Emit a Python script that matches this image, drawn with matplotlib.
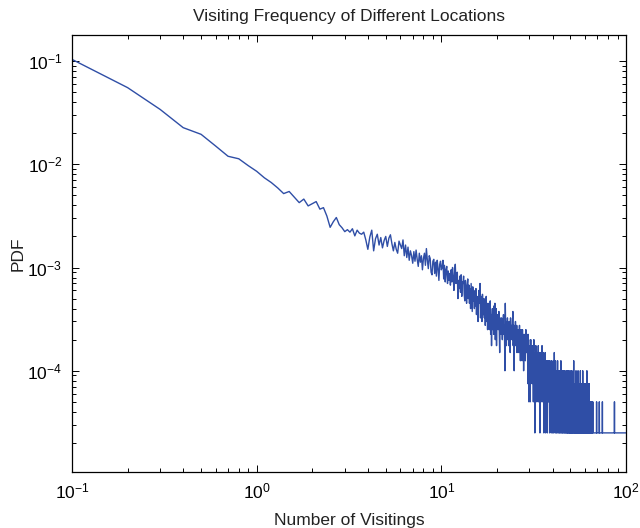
import numpy as np
import matplotlib
matplotlib.use("Agg")
import matplotlib.pyplot as plt

# visits per location, binned in steps of 0.1 (one row = one unit of x)
bin_width = 0.1
pdf_per_count = 2.5e-5
visit_counts = [
    4150, 2210, 1360, 905, 780, 600, 478, 452, 388, 342,
    296, 266, 236, 208, 218, 192, 170, 184, 158, 166,
    174, 147, 152, 126, 98, 111, 122, 104, 97, 89,
    93, 88, 95, 81, 92, 86, 84, 88, 74, 60,
    79, 92, 58, 76, 84, 66, 78, 62, 73, 80,
    64, 77, 83, 68, 58, 70, 60, 55, 72, 66,
    61, 74, 52, 66, 50, 63, 47, 58, 52, 44,
    57, 46, 59, 48, 41, 55, 45, 52, 38, 49,
    55, 42, 61, 47, 39, 52, 49, 36, 34, 46,
    48, 35, 45, 33, 47, 39, 30, 43, 46, 38,
    40, 47, 31, 42, 29, 38, 41, 28, 37, 30,
    35, 27, 38, 29, 40, 32, 24, 36, 43, 28,
    31, 36, 20, 30, 25, 33, 23, 34, 21, 29,
    28, 33, 22, 19, 30, 25, 18, 27, 31, 20,
    27, 18, 25, 16, 28, 21, 15, 26, 19, 24,
    16, 23, 17, 25, 14, 21, 20, 12, 19, 24,
    18, 28, 13, 21, 15, 12, 22, 17, 14, 20,
    13, 19, 11, 18, 21, 12, 16, 10, 18, 12,
    17, 10, 15, 19, 9, 14, 7, 13, 16, 10,
    15, 9, 17, 12, 18, 8, 11, 16, 7, 13,
    11, 14, 10, 12, 15, 9, 6, 13, 10, 12,
    9, 13, 11, 8, 12, 10, 14, 9, 11, 8,
    4, 18, 10, 12, 7, 11, 9, 13, 8, 10,
    11, 7, 12, 9, 10, 6, 13, 8, 11, 9,
    10, 8, 12, 15, 7, 9, 11, 4, 10, 8,
    9, 12, 7, 10, 8, 11, 6, 9, 10, 7,
    8, 10, 6, 9, 11, 7, 8, 5, 9, 10,
    7, 9, 8, 5, 10, 6, 9, 8, 4, 7,
    8, 6, 9, 7, 5, 8, 10, 6, 7, 9,
    6, 8, 7, 3, 9, 6, 8, 2, 7, 6,
    5, 7, 2, 6, 8, 4, 6, 5, 7, 3,
    6, 4, 7, 5, 2, 6, 8, 4, 5, 3,
    1, 5, 6, 4, 7, 3, 5, 6, 2, 4,
    5, 3, 6, 4, 7, 2, 5, 4, 3, 6,
    4, 1, 5, 3, 6, 4, 2, 5, 3, 4,
    7, 3, 4, 2, 5, 6, 3, 4, 1, 5,
    3, 5, 2, 4, 6, 3, 1, 4, 5, 3,
    4, 2, 5, 3, 1, 4, 3, 5, 2, 4,
    3, 5, 2, 4, 3, 1, 5, 3, 2, 4,
    2, 4, 3, 1, 5, 3, 2, 4, 3, 1,
    4, 2, 3, 5, 1, 3, 4, 2, 6, 3,
    2, 4, 1, 3, 5, 2, 3, 1, 4, 2,
    3, 1, 4, 2, 3, 5, 2, 1, 3, 4,
    2, 3, 1, 4, 2, 3, 1, 2, 4, 3,
    1, 3, 2, 5, 2, 1, 3, 2, 4, 1,
    3, 2, 4, 1, 2, 3, 1, 4, 2, 3,
    2, 1, 3, 2, 4, 1, 2, 3, 1, 2,
    3, 2, 1, 4, 2, 3, 1, 2, 3, 1,
    2, 4, 1, 2, 3, 1, 2, 4, 2, 1,
    3, 1, 2, 3, 1, 2, 4, 1, 2, 3,
    1, 2, 3, 1, 2, 4, 1, 2, 1, 3,
    2, 1, 3, 2, 1, 2, 4, 1, 3, 2,
    5, 1, 2, 1, 3, 2, 1, 2, 3, 1,
    2, 3, 1, 2, 1, 4, 2, 1, 2, 1,
    3, 1, 2, 1, 2, 3, 1, 2, 1, 4,
    1, 2, 1, 3, 2, 1, 2, 1, 3, 2,
    2, 1, 3, 1, 2, 4, 1, 2, 1, 2,
    1, 3, 2, 1, 2, 1, 3, 1, 2, 1,
    2, 1, 4, 2, 1, 2, 1, 3, 1, 2,
    1, 2, 1, 3, 1, 2, 1, 2, 3, 1,
    2, 1, 3, 1, 2, 1, 2, 1, 1, 3,
    1, 2, 1, 4, 1, 2, 1, 3, 1, 2,
    1, 1, 2, 1, 3, 1, 2, 1, 1, 2,
    1, 3, 1, 1, 2, 1, 1, 2, 1, 1,
    1, 2, 1, 1, 0, 1, 2, 1, 1, 1,
    1, 0, 1, 2, 1, 1, 0, 1, 1, 1,
    2, 1, 1, 0, 1, 1, 1, 0, 1, 1,
    1, 1, 0, 1, 1, 1, 0, 1, 1, 1,
    0, 1, 1, 1, 0, 1, 1, 1, 1, 0,
    1, 1, 2, 1, 0, 1, 1, 0, 1, 1,
    1, 0, 1, 1, 1, 0, 1, 1, 0, 1,
    1, 1, 0, 1, 1, 1, 2, 1, 0, 1,
    1, 0, 1, 1, 0, 1, 1, 1, 0, 1,
    0, 1, 1, 0, 1, 1, 0, 1, 1, 0,
    1, 1, 0, 1, 2, 1, 0, 1, 1, 0,
    1, 0, 1, 1, 0, 1, 1, 0, 1, 1,
    0, 1, 1, 0, 1, 0, 1, 1, 0, 1,
    1, 0, 1, 1, 0, 1, 0, 1, 1, 0,
    1, 1, 0, 1, 0, 1, 1, 0, 1, 1,
    0, 1, 1, 0, 1, 1, 0, 1, 0, 1,
    1, 0, 1, 1, 0, 1, 0, 1, 1, 0,
    1, 1, 0, 1, 0, 1, 1, 0, 1, 0,
    1, 0, 1, 0, 1, 1, 0, 1, 0, 1,
    1, 1, 0, 1, 0, 1, 0, 1, 1, 0,
    1, 0, 1, 0, 1, 1, 0, 1, 0, 1,
    0, 1, 1, 0, 1, 0, 1, 0, 1, 1,
    0, 1, 0, 1, 1, 2, 1, 0, 1, 0,
    1, 0, 1, 0, 1, 1, 0, 1, 0, 1,
    0, 1, 0, 1, 0, 1, 1, 0, 1, 0,
    1, 0, 1, 1, 0, 1, 0, 1, 0, 1,
    1, 0, 1, 0, 1, 1, 0, 1, 0, 1,
    0, 1, 1, 0, 1, 0, 1, 1, 0, 1,
    1, 0, 1, 0, 0, 1, 1, 0, 1, 0,
    1, 1, 0, 1, 0, 1, 0, 1, 0, 1,
    0, 1, 0, 1, 1, 0, 1, 0, 1, 0,
    1, 0, 1, 0, 1, 0, 1, 1, 0, 1,
    0, 1, 0, 1, 0, 1, 0, 1, 1, 0,
    1, 0, 1, 0, 1, 0, 1, 0, 0, 1,
    0, 1, 1, 0, 1, 0, 1, 0, 1, 0,
    1, 0, 1, 0, 1, 1, 0, 1, 0, 1,
]

title = "Visiting Frequency of Different Locations"
x_label = "Number of Visitings"
y_label = "PDF"

plt.rcParams["font.family"] = ["Liberation Sans", "DejaVu Sans"]
plt.rcParams["mathtext.fontset"] = "custom"
plt.rcParams["mathtext.rm"] = "Liberation Sans"
plt.rcParams["mathtext.it"] = "Liberation Sans:italic"
plt.rcParams["mathtext.bf"] = "Liberation Sans:bold"

counts = np.array(visit_counts, dtype=float)
visits = bin_width * np.arange(1, len(counts) + 1)
pdf = counts * pdf_per_count
# empty bins are skipped, the line joins the nonzero ones
keep = counts > 0

fig = plt.figure(figsize=(6.4, 5.28), dpi=100)
ax = fig.add_axes([72 / 640, 56 / 528, 554 / 640, 437 / 528])

ax.plot(visits[keep], pdf[keep], color="#2F4EA6", lw=1.0)
ax.set_xscale("log")
ax.set_yscale("log")
ax.set_xlim(0.1, 100)
ax.set_ylim(1.045e-5, 0.1787)

ax.tick_params(which="both", direction="in", top=True, right=True,
               labelsize=12.5, width=0.7, colors="black")
ax.tick_params(which="major", length=5, pad=7)
ax.tick_params(which="minor", length=3)
for s in ax.spines.values():
    s.set_linewidth(0.9)

ax.set_title(title, fontsize=12.5, pad=10, color="#222222")
ax.set_xlabel(x_label, fontsize=12.5, labelpad=8, color="#222222")
ax.set_ylabel(y_label, fontsize=12.5, labelpad=1, color="#222222")

fig.savefig("out.png", dpi=100)
